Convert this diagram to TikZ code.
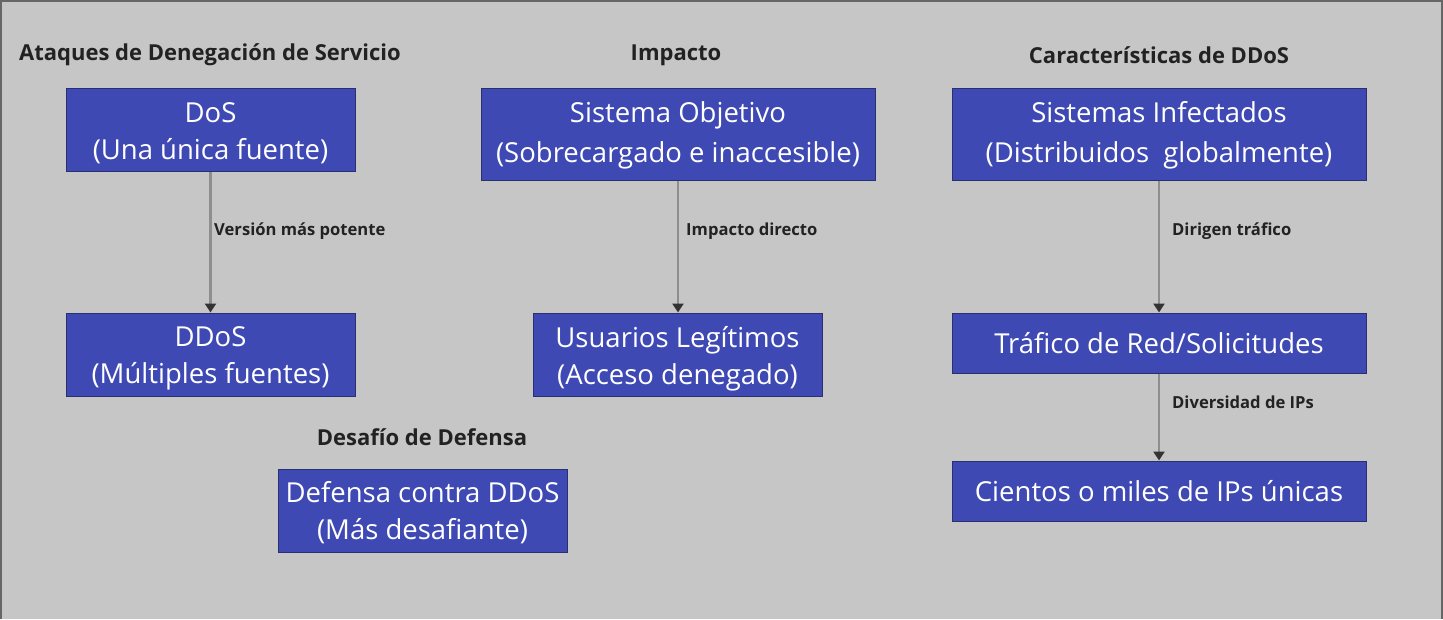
\documentclass[tikz,border=0pt]{standalone}
\usepackage{fontspec}
\setmainfont{Open Sans}
\usetikzlibrary{arrows.meta}
\definecolor{bgc}{HTML}{C6C6C6}
\definecolor{boxc}{HTML}{3F49B4}
\definecolor{boxline}{HTML}{2A2F70}
\definecolor{titc}{HTML}{222222}
\definecolor{arrc}{HTML}{8E8E8E}
\definecolor{tipc}{HTML}{333333}
\tikzset{
  box/.style={draw=boxline, line width=1pt, fill=boxc, text=white, align=center,
    inner sep=0pt, font=\fontsize{27.5}{37}\selectfont},
  btext/.style={text=white, align=center, inner sep=0pt, font=\fontsize{27.5}{37}\selectfont},
  btextw/.style={btext, font=\fontsize{27.5}{40}\selectfont},
  title/.style={text=titc, font=\bfseries\fontsize{22}{26}\selectfont, inner sep=0pt},
  elabel/.style={text=titc, font=\bfseries\fontsize{16.6}{20}\selectfont, inner sep=0pt, anchor=west},
  conn/.style={draw=arrc, line width=2.6pt, -{Triangle[length=9pt,width=11pt,color=tipc]}}
}
\begin{document}
\begin{tikzpicture}[x=1pt,y=-1pt]
\fill[bgc] (0,0) rectangle (1443,619);
\useasboundingbox (0,0) rectangle (1443,619);
\draw[color=black!60, line width=2pt] (1,619) -- (1,1) -- (1442,1) -- (1442,619);

\node[title] (t1) at (210,55) {Ataques de Denegación de Servicio};
\node[title] (t2) at (676,55) {Impacto};
\node[title] (t3) at (1159,55) {Características de DDoS};
\node[title] (t4) at (422,437) {Desafío de Defensa};

\node[box, minimum width=289pt, minimum height=83pt] (dos) at (210.5,129.5) {};
\node[btext] (dosT) at ([yshift=-4pt]dos.center) {DoS\\(Una única fuente)};
\node[box, minimum width=289pt, minimum height=83pt] (ddos) at (210.5,354.5) {};
\node[btext] (ddosT) at ([yshift=-4pt]ddos.center) {DDoS\\(Múltiples fuentes)};
\node[box, minimum width=394pt, minimum height=92pt] (sis) at (678,134) {};
\node[btextw] (sisT) at ([yshift=-1pt]sis.center) {Sistema Objetivo\\(Sobrecargado e inaccesible)};
\node[box, minimum width=289pt, minimum height=83pt] (usr) at (677.5,354.5) {};
\node[btext] (usrT) at ([yshift=-4pt]usr.center) {Usuarios Legítimos\\(Acceso denegado)};
\node[box, minimum width=414pt, minimum height=92pt] (inf) at (1159,134) {};
\node[btextw] (infT) at ([yshift=-1pt]inf.center) {Sistemas Infectados\\(Distribuidos\ \ globalmente)};
\node[box, minimum width=414pt, minimum height=60pt] (traf) at (1159,343) {Tráfico de Red/Solicitudes};
\node[box, minimum width=414pt, minimum height=60pt] (ips) at (1159,491) {Cientos o miles de IPs únicas};
\node[box, minimum width=289pt, minimum height=83pt] (def) at (422.5,510.5) {};
\node[btext] (defT) at ([yshift=-2pt]def.center) {Defensa contra DDoS\\(Más desafiante)};

\draw[conn] (dos.south) -- (ddos.north);
\draw[conn] (sis.south) -- (usr.north -| sis.south);
\draw[conn] (inf.south) -- (traf.north);
\draw[conn] (traf.south) -- (ips.north);

\node[elabel] (l1) at (214,231) {Versión más potente};
\node[elabel] (l2) at (686,231) {Impacto directo};
\node[elabel] (l3) at (1172,231) {Dirigen tráfico};
\node[elabel] (l4) at (1172,402) {Diversidad de IPs};
\end{tikzpicture}
\end{document}
